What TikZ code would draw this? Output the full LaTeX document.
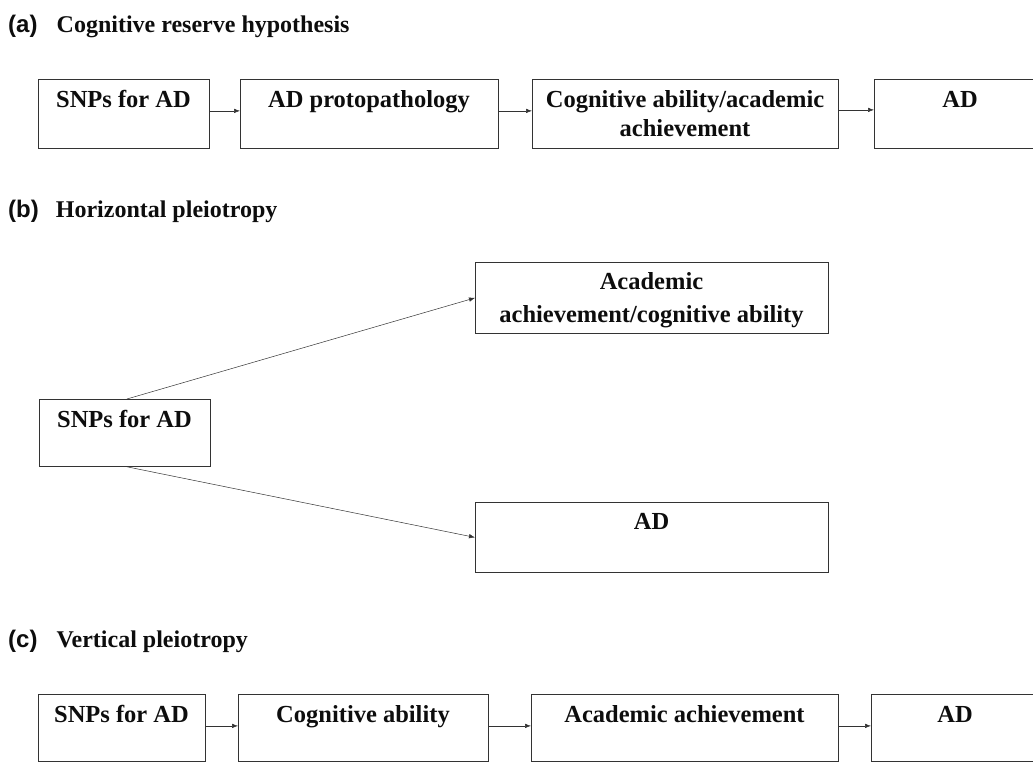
\documentclass[tikz,border=0pt]{standalone}
\usepackage{fontspec}
\setmainfont{Liberation Serif}
\newfontfamily\hdsans{Liberation Sans}
\usetikzlibrary{arrows.meta}

\tikzset{
  box/.style={draw=black!80, line width=0.8pt, inner sep=0pt, anchor=north west},
  txt/.style={anchor=base, inner sep=0pt, align=flush center, text width=330pt,
    text=black!95, font=\fontsize{24.5}{31}\selectfont\bfseries},
  hd/.style={anchor=base west, inner sep=0pt, text=black!95,
    font=\fontsize{24}{29}\selectfont\bfseries},
  arr/.style={-{Latex[length=6pt,width=4.5pt]}, draw=black!80, line width=0.5pt}
}

\begin{document}
\begin{tikzpicture}[x=1pt, y=-1pt]
  \useasboundingbox (0,0) rectangle (1033,762);

  % (a)
  \node[hd] (ha) at (8,33) {{\hdsans(\textbf{a})}\hspace{19pt}Cognitive reserve hypothesis};
  \node[box, minimum width=171, minimum height=69] (a1) at (38,79) {};
  \node[box, minimum width=258, minimum height=69] (a2) at (240,79) {};
  \node[box, minimum width=306, minimum height=69] (a3) at (532,79) {};
  \node[box, minimum width=200, minimum height=69] (a4) at (874,79) {};
  \node[txt] (a1t) at (123.5,108) {SNPs for AD};
  \node[txt] (a2t) at (369,108) {AD protopathology};
  \node[txt] (a3t) at (685,108) {Cognitive ability/academic\\[-2pt] achievement};
  \node[txt] (a4t) at (960,108) {AD};
  \draw[arr] ([yshift=3pt]a1.east) -- ([yshift=3pt]a2.west);
  \draw[arr] ([yshift=3pt]a2.east) -- ([yshift=3pt]a3.west);
  \draw[arr] ([yshift=4pt]a3.east) -- ([yshift=4pt]a4.west);

  % (b)
  \node[hd] (hb) at (8,218) {{\hdsans(\textbf{b})}\hspace{17pt}Horizontal pleiotropy};
  \node[box, minimum width=171, minimum height=67] (b1) at (39,399) {};
  \node[box, minimum width=353, minimum height=71] (b2) at (475,262) {};
  \node[box, minimum width=353, minimum height=70] (b3) at (475,502) {};
  \node[txt] (b1t) at (124.5,427) {SNPs for AD};
  \node[txt] (b2t) at (651.5,289) {Academic\\[2pt] achievement/cognitive ability};
  \node[txt] (b3t) at (651.5,529) {AD};
  \draw[arr] ([xshift=2pt]b1.north) -- (b2.west);
  \draw[arr] ([xshift=2pt]b1.south) -- (b3.west);

  % (c)
  \node[hd] (hc) at (8,647) {{\hdsans(\textbf{c})}\hspace{19pt}Vertical pleiotropy};
  \node[box, minimum width=167, minimum height=67] (c1) at (38,694) {};
  \node[box, minimum width=250, minimum height=67] (c2) at (238,694) {};
  \node[box, minimum width=307, minimum height=67] (c3) at (531,694) {};
  \node[box, minimum width=200, minimum height=67] (c4) at (871,694) {};
  \node[txt] (c1t) at (121.5,722) {SNPs for AD};
  \node[txt] (c2t) at (363,722) {Cognitive ability};
  \node[txt] (c3t) at (684.5,722) {Academic achievement};
  \node[txt] (c4t) at (955,722) {AD};
  \draw[arr] ([yshift=2pt]c1.east) -- ([yshift=2pt]c2.west);
  \draw[arr] ([yshift=2pt]c2.east) -- ([yshift=2pt]c3.west);
  \draw[arr] ([yshift=2pt]c3.east) -- ([yshift=2pt]c4.west);
\end{tikzpicture}
\end{document}
